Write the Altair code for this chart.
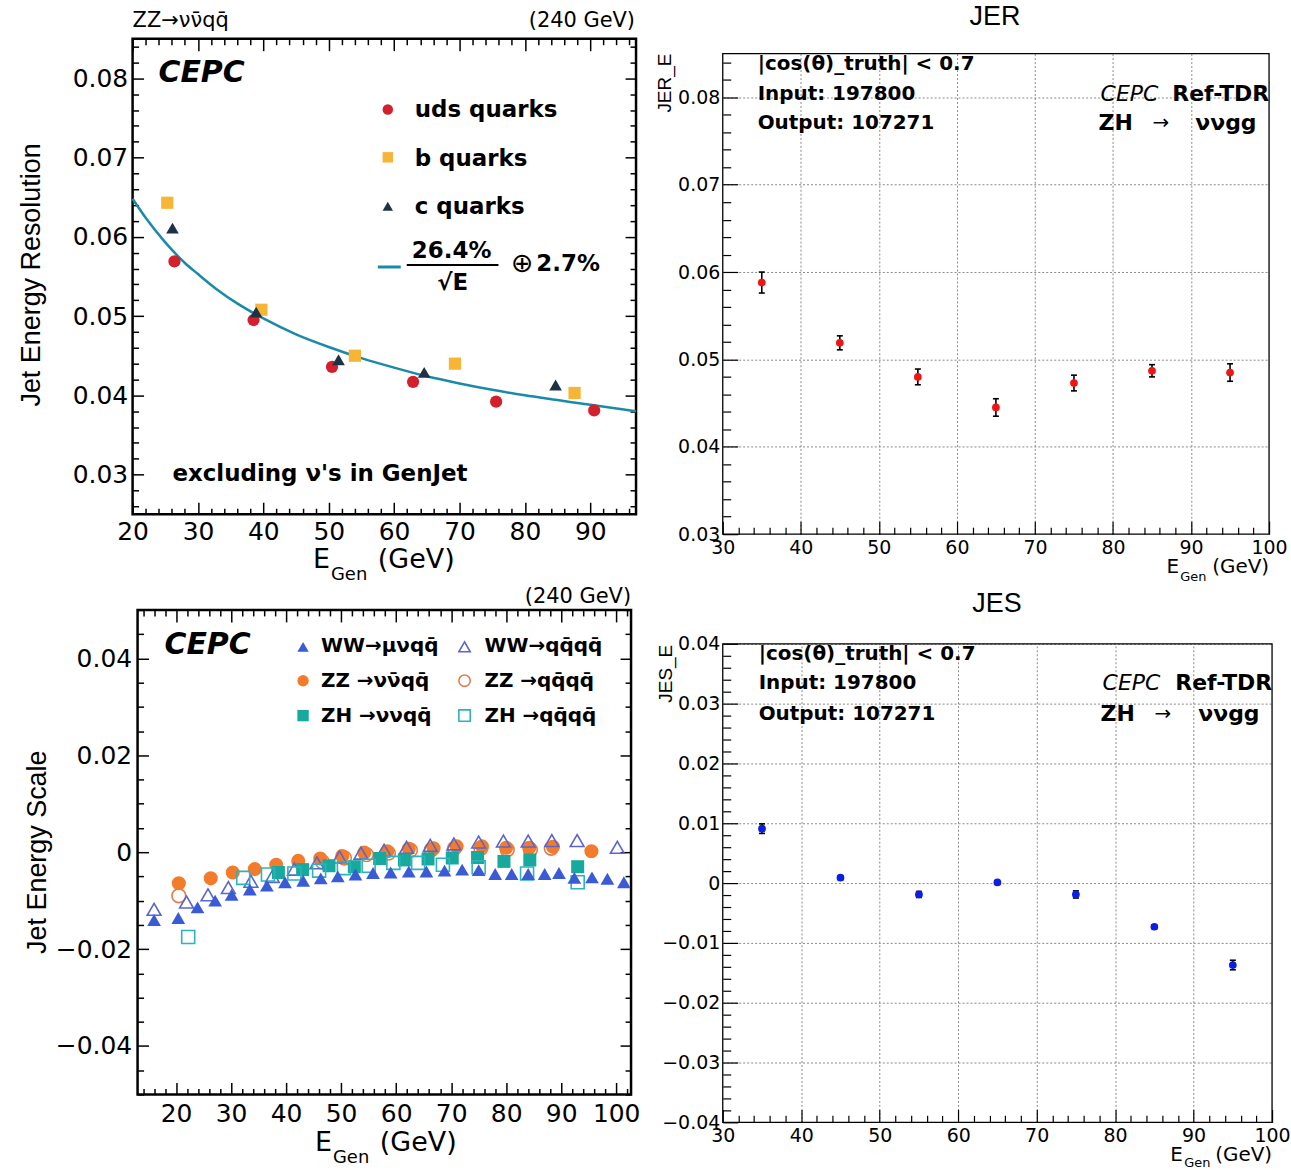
import altair as alt
import pandas as pd

W, H = 1291, 1170
FONT = "Liberation Sans"
FONT2 = "DejaVu Sans"

# ---------------- data ----------------
# Top-left: jet energy resolution, ZZ -> vvqq
uds_E = [26.4, 38.5, 50.5, 62.9, 75.6, 90.6]
uds_res = [0.0569, 0.0495, 0.0436, 0.0417, 0.0392, 0.0381]
b_E = [25.3, 39.7, 54.0, 69.3, 87.6]
b_res = [0.0643, 0.0508, 0.0450, 0.0440, 0.0403]
c_E = [26.1, 38.9, 51.5, 64.6, 84.7]
c_res = [0.0611, 0.0505, 0.0445, 0.0429, 0.0413]
fit_E = [20, 22, 25, 28, 30, 33, 36, 40, 45, 50, 55, 60, 65, 70, 75, 80, 85, 90, 97]
fit_res = [0.0648, 0.0624, 0.0593, 0.0567, 0.0553, 0.0533, 0.0516, 0.0497, 0.0477, 0.0461,
           0.0447, 0.0435, 0.0424, 0.0415, 0.0407, 0.0400, 0.0394, 0.0388, 0.0380]

# Top-right: JER, ZH -> vvgg
jer_E = [35, 45, 55, 65, 75, 85, 95]
jer = [0.0588, 0.0519, 0.0480, 0.0445, 0.0473, 0.0487, 0.0485]
jer_err = [0.0012, 0.0008, 0.0009, 0.0010, 0.0009, 0.0007, 0.0010]

# Bottom-right: JES, ZH -> vvgg
jes_E = [35, 45, 55, 65, 75, 85, 95]
jes = [0.0091, 0.0009, -0.0019, 0.0001, -0.0019, -0.0073, -0.0137]
jes_err = [0.0008, 0.0003, 0.0005, 0.0002, 0.0006, 0.0003, 0.0008]

# Bottom-left: jet energy scale for several processes
ww_lv_E = [16.0, 20.4, 23.9, 27.1, 30.1, 33.4, 36.5, 39.8, 43.1, 46.3, 49.4, 52.6, 55.8, 59.0,
           62.3, 65.5, 68.8, 72.0, 75.0, 78.0, 81.0, 84.0, 87.0, 89.6, 92.4, 95.6, 98.4, 101.4]
ww_lv = [-0.0140, -0.0136, -0.0114, -0.0100, -0.0088, -0.0077, -0.0069, -0.0062, -0.0059, -0.0054,
         -0.0050, -0.0046, -0.0043, -0.0042, -0.0040, -0.0040, -0.0038, -0.0036, -0.0037, -0.0045,
         -0.0045, -0.0045, -0.0045, -0.0043, -0.0053, -0.0052, -0.0055, -0.0062]
ww_4q_E = [16.0, 21.9, 25.8, 29.5, 33.6, 37.5, 41.5, 45.6, 49.7, 53.6, 57.8, 61.9, 66.2, 70.5,
           75.0, 79.5, 84.0, 88.3, 92.9, 100.2]
ww_4q = [-0.0118, -0.0103, -0.0088, -0.0073, -0.0060, -0.0050, -0.0035, -0.0022, -0.0010, -0.0002,
         0.0004, 0.0010, 0.0014, 0.0017, 0.0021, 0.0023, 0.0023, 0.0024, 0.0024, 0.0010]
zz_vv_E = [20.5, 26.3, 30.3, 34.3, 38.2, 42.2, 46.2, 50.2, 54.2, 58.4, 62.3, 66.8, 71.0, 75.6,
           80.0, 84.2, 88.5, 95.5]
zz_vv = [-0.0064, -0.0054, -0.0042, -0.0035, -0.0026, -0.0018, -0.0013, -0.0008, -0.0001, 0.0002,
         0.0007, 0.0008, 0.0012, 0.0012, 0.0009, 0.0009, 0.0011, 0.0002]
zz_4q_E = [20.5, 46.6, 50.6, 54.6, 58.6, 62.6, 66.4, 70.6, 75.4, 80.2, 84.4, 88.2]
zz_4q = [-0.0090, -0.0020, -0.0012, -0.0005, -0.0002, 0.0004, 0.0005, 0.0008, 0.0008, 0.0005,
         0.0005, 0.0008]
zh_vv_E = [38.6, 43.0, 47.8, 52.4, 57.0, 61.5, 65.8, 70.2, 74.8, 79.6, 84.3, 93.0]
zh_vv = [-0.0042, -0.0036, -0.0028, -0.0030, -0.0013, -0.0016, -0.0014, -0.0012, -0.0011, -0.0019,
         -0.0016, -0.0030]
zh_4q_E = [22.2, 32.2, 36.7, 41.5, 46.0, 50.5, 55.0, 59.5, 64.0, 68.5, 75.0, 83.8, 93.0]
zh_4q = [-0.0175, -0.0053, -0.0046, -0.0044, -0.0038, -0.0033, -0.0028, -0.0022, -0.0022, -0.0026,
         -0.0031, -0.0044, -0.0062]

# axis domains and ticks
tl_xdom, tl_ydom = [20, 97], [0.025, 0.085]
tr_xdom, tr_ydom = [30, 100], [0.03, 0.085]
bl_xdom, bl_ydom = [13, 102.7], [-0.05, 0.05]
br_xdom, br_ydom = [30, 100], [-0.04, 0.04]

tl_xmaj = [20, 30, 40, 50, 60, 70, 80, 90]
tl_ymaj = [0.03, 0.04, 0.05, 0.06, 0.07, 0.08]
tr_xmaj = [30, 40, 50, 60, 70, 80, 90, 100]
tr_ymaj = [0.03, 0.04, 0.05, 0.06, 0.07, 0.08]
bl_xmaj = [20, 30, 40, 50, 60, 70, 80, 90, 100]
bl_ymaj = [-0.04, -0.02, 0.0, 0.02, 0.04]
br_xmaj = [30, 40, 50, 60, 70, 80, 90, 100]
br_ymaj = [-0.04, -0.03, -0.02, -0.01, 0.0, 0.01, 0.02, 0.03, 0.04]


def minor(lo, hi, step, majors):
    out, n = [], 0
    v = lo
    while v <= hi + 1e-9:
        if all(abs(v - m) > 1e-9 for m in majors):
            out.append(round(v, 6))
        n += 1
        v = lo + n * step
    return out


tl_xmin = minor(20, 96, 2, tl_xmaj)
tl_ymin = minor(0.026, 0.084, 0.002, tl_ymaj)
tr_xmin = minor(30, 100, 2, tr_xmaj)
tr_ymin = minor(0.03, 0.084, 0.002, tr_ymaj)
bl_xmin = minor(14, 102, 2, bl_xmaj)
bl_ymin = minor(-0.05, 0.05, 0.005, bl_ymaj)
br_xmin = minor(30, 100, 2, br_xmaj)
br_ymin = minor(-0.04, 0.04, 0.002, br_ymaj)

# ---------------- helpers ----------------
one = pd.DataFrame({"k": [0]})


def txt(s, x, y, size, weight="normal", style="normal", align="left", angle=0, color="black",
        font=FONT2):
    kw = dict(text=s, fontSize=size, fontWeight=weight, fontStyle=style, align=align,
              baseline="middle", color=color, font=font)
    if angle:
        kw["angle"] = angle
    return alt.Chart(one).mark_text(**kw).encode(x=alt.value(x), y=alt.value(y))


def sym(shape, x, y, color, size, filled=True, sw=1.6):
    return alt.Chart(one).mark_point(shape=shape, filled=filled, size=size, color=color,
                                     opacity=1, strokeWidth=sw).encode(x=alt.value(x), y=alt.value(y))


def hline(x1, x2, y, color="black", width=2.0):
    return alt.Chart(one).mark_rule(color=color, strokeWidth=width).encode(
        x=alt.value(x1), x2=alt.value(x2), y=alt.value(y))


def panel(xdom, ydom, frame, xmaj, xmin, ymaj, ymin, Lx, lx, Ly, ly, fs, xpad, ypad,
          yexpr, four=True, grid=False, frame_w=2.0, tick_w=1.5):
    l, r, t, b = frame
    xs = alt.Scale(domain=xdom, range=[l, r], nice=False, zero=False)
    ys = alt.Scale(domain=ydom, range=[b, t], nice=False, zero=False)
    corners = pd.DataFrame({"x": xdom, "y": ydom})

    def lay(xa, ya):
        return alt.Chart(corners).mark_point(opacity=0).encode(
            x=alt.X("x:Q", scale=xs, axis=xa), y=alt.Y("y:Q", scale=ys, axis=ya))

    def tick_axis(orient, values, size, offset):
        return alt.Axis(orient=orient, values=values, tickSize=size, offset=offset,
                        tickWidth=tick_w, tickColor="black", domain=False, grid=False,
                        labels=False, title=None)

    layers = []
    xlab = alt.Axis(orient="bottom", values=xmaj, tickSize=Lx, offset=b - Lx - H,
                    tickWidth=tick_w, tickColor="black", domain=False, grid=False, title=None,
                    labels=True, labelFont=FONT2, labelFontSize=fs, labelColor="black",
                    labelPadding=xpad, labelFlush=False, labelOverlap=False,
                    labelExpr="format(datum.value, 'd')")
    ylab = alt.Axis(orient="left", values=ymaj, tickSize=Ly, offset=-(l + Ly),
                    tickWidth=tick_w, tickColor="black", domain=False, grid=False, title=None,
                    labels=True, labelFont=FONT2, labelFontSize=fs, labelColor="black",
                    labelPadding=ypad, labelFlush=False, labelOverlap=False, labelExpr=yexpr)
    if grid:
        gx = alt.Axis(orient="top", values=xmaj[1:-1], grid=True, gridColor="#8a8a8a",
                      gridDash=[2, 2], gridWidth=1, ticks=False, labels=False, domain=False,
                      title=None)
        gy = alt.Axis(orient="left", values=ymaj[1:], grid=True, gridColor="#8a8a8a",
                      gridDash=[2, 2], gridWidth=1, ticks=False, labels=False, domain=False,
                      title=None)
        layers.append(lay(gx, gy))
    layers.append(lay(xlab, ylab))
    layers.append(lay(tick_axis("bottom", xmin, lx, b - lx - H),
                      tick_axis("left", ymin, ly, -(l + ly))))
    if four:
        layers.append(lay(tick_axis("top", xmaj, Lx, -(t + Lx)),
                          tick_axis("right", ymaj, Ly, r - Ly - W)))
        layers.append(lay(tick_axis("top", xmin, lx, -(t + lx)),
                          tick_axis("right", ymin, ly, r - ly - W)))
    fr = pd.DataFrame({"x0": [xdom[0]], "x1": [xdom[1]], "y0": [ydom[0]], "y1": [ydom[1]]})
    layers.append(alt.Chart(fr).mark_rect(fillOpacity=0, stroke="black", strokeWidth=frame_w).encode(
        x=alt.X("x0:Q", scale=xs, axis=None), x2="x1:Q",
        y=alt.Y("y0:Q", scale=ys, axis=None), y2="y1:Q"))
    return xs, ys, layers


def points(E, v, xs, ys, shape, color, size, filled=True, sw=1.6):
    df = pd.DataFrame({"E": E, "v": v})
    return alt.Chart(df).mark_point(shape=shape, filled=filled, color=color, size=size,
                                    opacity=1, strokeWidth=sw).encode(
        x=alt.X("E:Q", scale=xs, axis=None), y=alt.Y("v:Q", scale=ys, axis=None))


def errbars(E, v, err, xs, ys, color):
    df = pd.DataFrame({"E": E, "v": v,
                       "lo": [a - e for a, e in zip(v, err)],
                       "hi": [a + e for a, e in zip(v, err)]})
    bar = alt.Chart(df).mark_rule(color="black", strokeWidth=1.6).encode(
        x=alt.X("E:Q", scale=xs, axis=None), y=alt.Y("lo:Q", scale=ys, axis=None), y2="hi:Q")
    cap_lo = alt.Chart(df).mark_rule(color="black", strokeWidth=1.6, xOffset=-3, x2Offset=3).encode(
        x=alt.X("E:Q", scale=xs, axis=None), x2="E:Q", y=alt.Y("lo:Q", scale=ys, axis=None))
    cap_hi = alt.Chart(df).mark_rule(color="black", strokeWidth=1.6, xOffset=-3, x2Offset=3).encode(
        x=alt.X("E:Q", scale=xs, axis=None), x2="E:Q", y=alt.Y("hi:Q", scale=ys, axis=None))
    pts = alt.Chart(df).mark_point(shape="circle", filled=True, color=color, size=60, opacity=1).encode(
        x=alt.X("E:Q", scale=xs, axis=None), y=alt.Y("v:Q", scale=ys, axis=None))
    return [bar, cap_lo, cap_hi, pts]


layers = []
Y2 = "format(datum.value, '.2f')"
Y2Z = "abs(datum.value) < 1e-9 ? '0' : format(datum.value, '.2f')"

# ---------------- top-left ----------------
RED, ORA, NAVY, TEAL = "#D41F2D", "#F7B538", "#1E3246", "#1A8AA8"
xs, ys, ax = panel(tl_xdom, tl_ydom, (133, 638, 37, 514), tl_xmaj, tl_xmin, tl_ymaj, tl_ymin,
                   12, 6, 11, 6, 25, 5, 5, Y2, four=True, frame_w=2.5)
layers += ax
fit_df = pd.DataFrame({"E": fit_E, "v": fit_res})
layers.append(alt.Chart(fit_df).mark_line(color=TEAL, strokeWidth=2.5, interpolate="monotone").encode(
    x=alt.X("E:Q", scale=xs, axis=None), y=alt.Y("v:Q", scale=ys, axis=None)))
layers.append(points(uds_E, uds_res, xs, ys, "circle", RED, 150))
layers.append(points(b_E, b_res, xs, ys, "square", ORA, 150))
layers.append(points(c_E, c_res, xs, ys, "triangle-up", NAVY, 160))
layers += [
    txt("ZZ→νν\u0304qq\u0304", 133, 19, 21),
    txt("(240 GeV)", 637, 19, 21, align="right"),
    txt("CEPC", 159, 71, 30, weight="bold", style="italic"),
    sym("circle", 389, 108, RED, 110),
    txt("uds quarks", 416, 109, 23, weight="bold"),
    sym("square", 389, 156, ORA, 110),
    txt("b quarks", 416, 158, 23, weight="bold"),
    sym("triangle-up", 389, 205, NAVY, 110),
    txt("c quarks", 416, 206, 23, weight="bold"),
    hline(379, 402, 266, TEAL, 3),
    txt("26.4%", 453, 250, 23, weight="bold", align="center"),
    hline(408, 500, 264, "black", 2),
    txt("√E", 454, 282, 23, weight="bold", align="center"),
    txt("⊕", 524, 263, 27, align="center"),
    txt("2.7%", 538, 263, 23, weight="bold"),
    txt("excluding  ν's in GenJet", 173, 474, 23, weight="bold"),
    txt("Jet Energy Resolution", 32, 274, 27, angle=270, align="center", font=FONT),
    txt("E", 314, 560, 27),
    txt("Gen", 332, 575, 18),
    txt("(GeV)", 379, 560, 27),
]

# ---------------- top-right ----------------
xs, ys, ax = panel(tr_xdom, tr_ydom, (725, 1273, 52, 534), tr_xmaj, tr_xmin, tr_ymaj, tr_ymin,
                   13, 7, 15, 8, 19, 4, 3, Y2, four=False, grid=True, frame_w=1.3, tick_w=1.2)
layers += ax
layers += errbars(jer_E, jer, jer_err, xs, ys, "#F01414")
layers += [
    txt("JER", 998, 15, 27, align="center", font=FONT),
    txt("JER_E", 667, 52, 19, angle=270, align="right", font=FONT),
    txt("|cos(θ)_truth| < 0.7", 760, 62, 20, weight="bold"),
    txt("Input: 197800", 760, 92, 20, weight="bold"),
    txt("Output: 107271", 760, 122, 20, weight="bold"),
    txt("CEPC", 1104, 92, 22, style="italic"),
    txt("Ref-TDR", 1176, 92, 22, weight="bold"),
    txt("ZH", 1102, 122, 22, weight="bold"),
    txt("→", 1156, 122, 20),
    txt("ννgg", 1199, 122, 22, weight="bold"),
    txt("E", 1170, 567, 20),
    txt("Gen", 1184, 577, 13),
    txt("(GeV)", 1273, 567, 20, align="right"),
]

# ---------------- bottom-left ----------------
BLUE, BLUE2, ORG, ORG2, TL1, TL2 = "#3B5BD6", "#5B66C9", "#F47B2B", "#E07E4E", "#17A89E", "#2DB3BC"
xs, ys, ax = panel(bl_xdom, bl_ydom, (138, 633, 610, 1096), bl_xmaj, bl_xmin, bl_ymaj, bl_ymin,
                   12, 6, 11, 6, 25, 7, 6, Y2Z, four=True, frame_w=2.5)
layers += ax
layers.append(points(zz_4q_E, zz_4q, xs, ys, "circle", ORG2, 190, filled=False))
layers.append(points(zz_vv_E, zz_vv, xs, ys, "circle", ORG, 200))
layers.append(points(ww_4q_E, ww_4q, xs, ys, "triangle-up", BLUE2, 190, filled=False))
layers.append(points(zh_vv_E, zh_vv, xs, ys, "square", TL1, 170))
layers.append(points(zh_4q_E, zh_4q, xs, ys, "square", TL2, 170, filled=False))
layers.append(points(ww_lv_E, ww_lv, xs, ys, "triangle-up", BLUE, 190))
layers += [
    txt("(240 GeV)", 633, 597, 21, align="right"),
    txt("CEPC", 165, 645, 30, weight="bold", style="italic"),
    sym("triangle-up", 304, 647, BLUE, 130),
    txt("WW→μνqq\u0304", 322, 646, 20, weight="bold"),
    sym("triangle-up", 466, 647, BLUE2, 130, filled=False),
    txt("WW→qq\u0304qq\u0304", 486, 646, 20, weight="bold"),
    sym("circle", 304, 681, ORG, 130),
    txt("ZZ →νν\u0304qq\u0304", 322, 681, 20, weight="bold"),
    sym("circle", 466, 681, ORG2, 130, filled=False),
    txt("ZZ →qq\u0304qq\u0304", 486, 681, 20, weight="bold"),
    sym("square", 304, 716, TL1, 130),
    txt("ZH →ννqq\u0304", 322, 716, 20, weight="bold"),
    sym("square", 466, 716, TL2, 130, filled=False),
    txt("ZH →qq\u0304qq\u0304", 486, 716, 20, weight="bold"),
    txt("Jet Energy Scale", 38, 853, 27, angle=270, align="center", font=FONT),
    txt("E", 316, 1145, 27),
    txt("Gen", 334, 1160, 18),
    txt("(GeV)", 381, 1145, 27),
]

# ---------------- bottom-right ----------------
xs, ys, ax = panel(br_xdom, br_ydom, (725, 1276, 644, 1124), br_xmaj, br_xmin, br_ymaj, br_ymin,
                   13, 7, 15, 8, 19, 4, 3, Y2Z, four=False, grid=True, frame_w=1.3, tick_w=1.2)
layers += ax
layers += errbars(jes_E, jes, jes_err, xs, ys, "#0A1EE6")
layers += [
    txt("JES", 1000, 604, 27, align="center", font=FONT),
    txt("JES_E", 668, 645, 19, angle=270, align="right", font=FONT),
    txt("|cos(θ)_truth| < 0.7", 761, 654, 20, weight="bold"),
    txt("Input: 197800", 761, 683, 20, weight="bold"),
    txt("Output: 107271", 761, 714, 20, weight="bold"),
    txt("CEPC", 1106, 683, 22, style="italic"),
    txt("Ref-TDR", 1179, 683, 22, weight="bold"),
    txt("ZH", 1104, 714, 22, weight="bold"),
    txt("→", 1158, 714, 20),
    txt("ννgg", 1202, 714, 22, weight="bold"),
    txt("E", 1174, 1157, 20),
    txt("Gen", 1188, 1165, 13),
    txt("(GeV)", 1276, 1157, 20, align="right"),
]

chart = alt.layer(*layers).resolve_scale(
    x="independent", y="independent"
).resolve_axis(
    x="independent", y="independent"
).properties(
    width=W, height=H, padding=0, background="white"
).configure_view(strokeWidth=0)

chart.save("out.html", embed_options={"renderer": "svg", "actions": False})
